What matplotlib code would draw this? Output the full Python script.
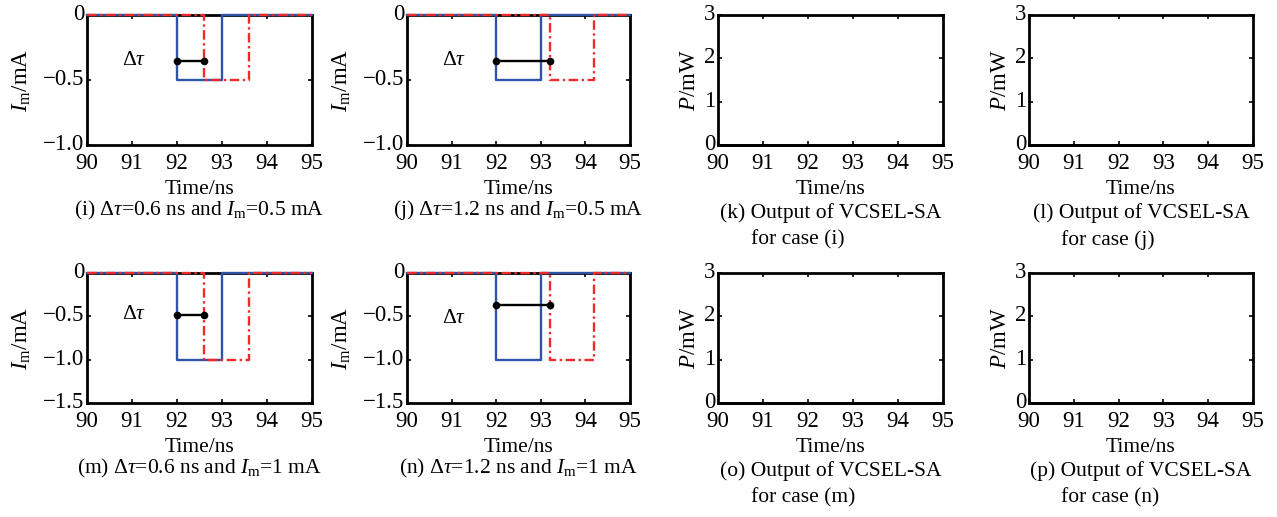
import numpy as np
import matplotlib
matplotlib.use("Agg")
import matplotlib.pyplot as plt
import matplotlib.transforms as mtrans

#==================Data===================
# current-pulse panels (i), (j), (m), (n)
inLabels = ["i", "j", "m", "n"]
inDelays = [0.6, 1.2, 0.6, 1.2]        # delta tau, ns
inAmps = [0.5, 0.5, 1.0, 1.0]          # Im, mA
inYmin = [-1.0, -1.0, -1.5, -1.5]
markerY = [-0.35, -0.35, -0.48, -0.37]
tauLabelY = [-0.35, -0.35, -0.48, -0.52]
pulseStart = 92.0
pulseWidth = 1.0

# output panels (k), (l), (o), (p)
outLabels = ["k", "l", "o", "p"]
outCases = ["i", "j", "m", "n"]
outTime = [90.0, 95.0]
outPower = [0.0, 0.0]

xTicks = [90, 91, 92, 93, 94, 95]

#==================Style===================
BLUE = "#3153A6"
RED = "#F02A2A"
W, H = 1277, 517
plt.rcParams['font.family'] = ['Liberation Serif', 'DejaVu Serif']
plt.rcParams['mathtext.fontset'] = 'custom'
plt.rcParams['mathtext.rm'] = 'Liberation Serif'
plt.rcParams['mathtext.it'] = 'Liberation Serif:italic'
plt.rcParams['font.size'] = 15.5
plt.rcParams['axes.unicode_minus'] = True

COL_LEFT = [87, 407, 718, 1029]
COL_WIDTH = [225, 223, 225, 224]
ROW_TOP = [15, 273]
AX_H = 130
TICK_FS = 16.5
LAB_FS = 15.5


def makeAxes(fig, row, col):
    left = COL_LEFT[col] / W
    bottom = (H - ROW_TOP[row] - AX_H) / H
    ax = fig.add_axes([left, bottom, COL_WIDTH[col] / W, AX_H / H])
    for s in ax.spines.values():
        s.set_linewidth(2.0)
    ax.tick_params(direction='in', top=True, right=True, length=3, width=1.2,
                   labelsize=TICK_FS)
    ax.tick_params(axis='x', pad=6)
    ax.tick_params(axis='y', pad=2)
    ax.set_xlim(90, 95)
    ax.set_xticks(xTicks)
    ax.set_xlabel("Time/ns", fontsize=LAB_FS, labelpad=4)
    return ax


def liftYLabels(fig, ax):
    # y tick labels sit a few pixels above their ticks, as in the original
    off = mtrans.ScaledTranslation(0, 3.0 / 100, fig.dpi_scale_trans)
    for lab in ax.get_yticklabels():
        lab.set_transform(lab.get_transform() + off)


def pulse(start, amp):
    t = [90, start, start, start + pulseWidth, start + pulseWidth, 95]
    v = [0, 0, -amp, -amp, 0, 0]
    return t, v


def fmt(v):
    if v == 0:
        return "0"
    return ("%.1f" % v).replace("-", "\u2212")


fig = plt.figure(figsize=(W / 100, H / 100), dpi=100)

for k in range(4):
    row, col = k // 2, k % 2
    ax = makeAxes(fig, row, col)
    amp, d = inAmps[k], inDelays[k]
    tb, vb = pulse(pulseStart, amp)
    tr, vr = pulse(pulseStart + d, amp)
    ax.plot(tb, vb, color=BLUE, lw=1.7, clip_on=False, zorder=5)
    ax.plot(tr, vr, color=RED, lw=1.7, ls=(0, (4, 1.5, 1, 1.5)), clip_on=False, zorder=6)
    ax.plot([pulseStart, pulseStart + d], [markerY[k], markerY[k]], color='black',
            lw=1.7, marker='o', ms=4.5, zorder=7)
    ax.text(91.05, tauLabelY[k], r"$\Delta\tau$", ha='center', va='center', fontsize=LAB_FS)
    ax.set_ylim(inYmin[k], 0)
    yt = np.arange(0, inYmin[k] - 0.01, -0.5)
    ax.set_yticks(yt)
    ax.set_yticklabels([fmt(v) for v in yt])
    liftYLabels(fig, ax)
    ax.set_ylabel(r"$I_\mathrm{m}$/mA", fontsize=LAB_FS + 1, labelpad=7)
    cap = r"(%s) $\Delta\tau$=%.1f ns and $I_\mathrm{m}$=%g mA" % (inLabels[k], d, amp)
    ax.text(0.5, -0.5, cap, transform=ax.transAxes, ha='center', va='center', fontsize=LAB_FS)

for k in range(4):
    row, col = k // 2, 2 + k % 2
    ax = makeAxes(fig, row, col)
    ax.plot(outTime, outPower, color='black', lw=2.0, clip_on=False, zorder=5)
    ax.set_ylim(0, 3)
    ax.set_yticks([0, 1, 2, 3])
    liftYLabels(fig, ax)
    ax.set_ylabel(r"$P$/mW", fontsize=LAB_FS + 1, labelpad=3)
    ax.text(0.5, -0.52, "(%s) Output of VCSEL-SA" % outLabels[k], transform=ax.transAxes,
            ha='center', va='center', fontsize=LAB_FS)
    ax.text(0.145, -0.73, "for case (%s)" % outCases[k], transform=ax.transAxes,
            ha='left', va='center', fontsize=LAB_FS)

fig.savefig("out.png", dpi=100)
